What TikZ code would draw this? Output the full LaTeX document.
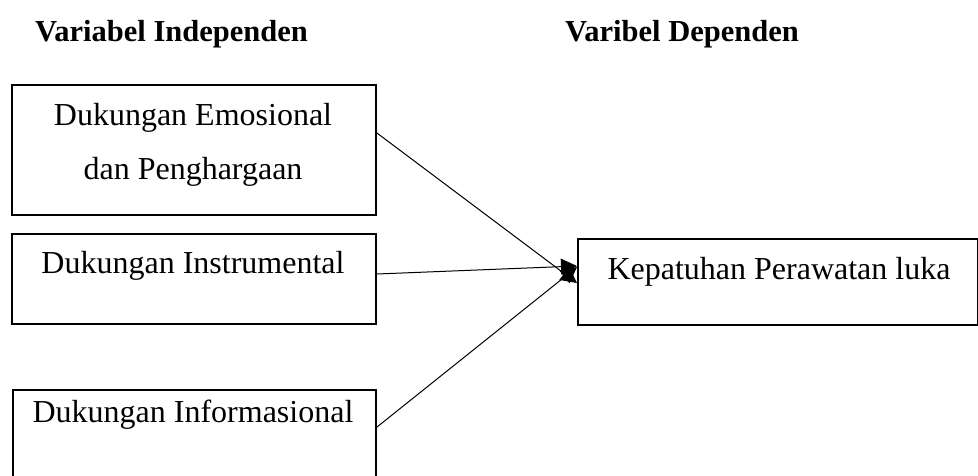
\documentclass[tikz,border=0pt]{standalone}
\usepackage{fontspec}
\setmainfont{Liberation Serif}
\usetikzlibrary{arrows.meta}
\begin{document}
\begin{tikzpicture}[x=1pt,y=-1pt,
  boxstyle/.style={draw=black,line width=2pt,inner sep=0pt,anchor=north west},
  txt/.style={inner sep=0pt,anchor=base,font=\fontsize{32}{38}\selectfont},
  head/.style={inner sep=0pt,anchor=base west,font=\fontsize{30.5}{36}\selectfont\bfseries},
  conn/.style={line width=1pt,-{Triangle[length=16pt,width=16pt]}}]
\useasboundingbox (0,0) rectangle (978,475);
\fill[white] (0,0) rectangle (978,475);
% headings
\node[head] (h1) at (35,41) {Variabel Independen};
\node[head] (h2) at (565,41) {Varibel Dependen};
% boxes
\node[boxstyle,minimum width=364pt,minimum height=130pt] (b1) at (11,84) {};
\node[boxstyle,minimum width=364pt,minimum height=90pt] (b2) at (11,233) {};
\node[boxstyle,minimum width=363pt,minimum height=110pt] (b3) at (12,389) {};
\node[boxstyle,minimum width=400pt,minimum height=86pt] (b4) at (577,238) {};
% texts
\node[txt] (t1a) at (193,125) {Dukungan Emosional};
\node[txt] (t1b) at (193,179) {dan Penghargaan};
\node[txt] (t2) at (193,273) {Dukungan Instrumental};
\node[txt] (t3) at (193,422) {Dukungan Informasional};
\node[txt] (t4) at (779,279) {Kepatuhan Perawatan luka};
% connectors
\draw[conn] ([yshift=17pt]b1.east) -- ([yshift=-1pt]b4.west);
\draw[conn] ([yshift=5pt]b2.east) -- ([yshift=16pt]b4.west);
\draw[conn] ([yshift=18pt]b3.east) -- ([yshift=15pt]b4.west);
\end{tikzpicture}
\end{document}
